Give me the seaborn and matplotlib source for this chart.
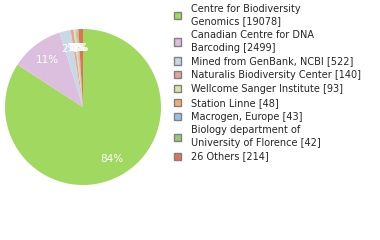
import matplotlib
matplotlib.use("Agg")
import matplotlib.pyplot as plt
from matplotlib.patches import Patch
import seaborn as sns

sns.set_theme(style="white")
plt.rcParams['font.family'] = ['DejaVu Sans']

labels = ["Centre for Biodiversity\nGenomics [19078]",
          "Canadian Centre for DNA\nBarcoding [2499]",
          "Mined from GenBank, NCBI [522]",
          "Naturalis Biodiversity Center [140]",
          "Wellcome Sanger Institute [93]",
          "Station Linne [48]",
          "Macrogen, Europe [43]",
          "Biology department of\nUniversity of Florence [42]",
          "26 Others [214]"]
values = [19078, 2499, 522, 140, 93, 48, 43, 42, 214]
colors = ["#a0d860", "#dcbedf", "#c8d8e6", "#e2a59b", "#dde4a3",
          "#f2ad72", "#9bbfe2", "#9ac876", "#df7358"]

fig = plt.figure(figsize=(3.8, 2.4), dpi=100)
ax = fig.add_axes([5/380, 1 - 185/240, 156/380, 156/240])
wedges, texts, autotexts = ax.pie(values, colors=colors, startangle=90,
                                  counterclock=False, autopct='%1.0f%%',
                                  pctdistance=0.76,
                                  wedgeprops=dict(linewidth=0),
                                  textprops=dict(color='white', fontsize=7.5))
ax.set_xlim(-1, 1)
ax.set_ylim(-1, 1)
ax.set_aspect('equal')

handles = [Patch(facecolor=c, edgecolor='#808080', linewidth=1) for c in colors]
leg = fig.legend(handles, labels, loc='upper left', bbox_to_anchor=(174/380, 1 - 4/240),
                 frameon=False, fontsize=7, handlelength=0.75, handleheight=0.75,
                 handletextpad=1.0, labelspacing=0.39, borderaxespad=0, borderpad=0)
for t in leg.get_texts():
    t.set_linespacing(1.3)

fig.savefig("out.png", dpi=100)
